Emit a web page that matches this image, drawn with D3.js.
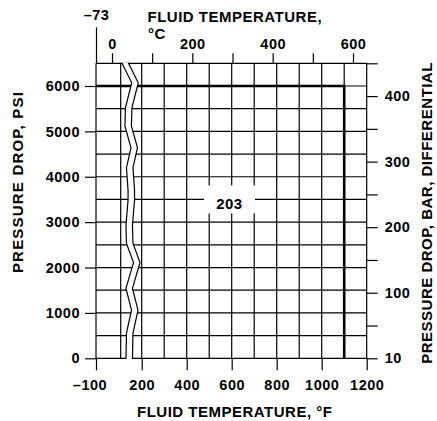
<!DOCTYPE html>
<html>
<head>
<meta charset="utf-8">
<script src="https://cdn.jsdelivr.net/npm/d3@7"></script>
<style>
  body { margin: 0; background: #fff; }
  svg text { font-family: "Liberation Sans", Arial, Helvetica, sans-serif; font-weight: bold; fill: #000; }
  .tick text { font-size: 14.5px; letter-spacing: 0.5px; }
  .title { font-size: 15px; letter-spacing: 0.5px; }
</style>
</head>
<body>
<div id="chart"></div>
<script>
// fluid temperature, deg F (bottom)
var gridF = [-100, 0, 200, 300, 400, 500, 600, 700, 800, 900, 1000, 1100, 1200];
var tickF = [-100, 200, 400, 600, 800, 1000, 1200];
var tickFLabels = ["–100", "200", "400", "600", "800", "1000", "1200"];

// fluid temperature, deg C (top)
var minC = -73;
var tickC = [0, 100, 200, 300, 400, 500, 600];
var tickCLabels = ["0", "", "200", "", "400", "", "600"];

// pressure drop
var gridPsi = [0, 500, 1000, 1500, 2000, 2500, 3000, 3500, 4000, 4500, 5000, 5500, 6000, 6500];
var tickPsi = [0, 1000, 2000, 3000, 4000, 5000, 6000];
var tickBar = [0, 50, 100, 150, 200, 250, 300, 350, 400, 450];
var tickBarLabels = ["10", "", "100", "", "200", "", "300", "", "400", ""];

// pressure / temperature limit, [degF, psi]
var limitLine = [[-100, 6000], [1100, 6000], [1100, 0]];
var curveLabel = { name: "203", f: 590, psi: 3500 };

// scale break between 0 and 200 F, [degF, psi]
var breakLine = [
  [10, 6510], [105, 6070], [45, 5520], [40, 5120], [98, 4640], [55, 4200],
  [70, 3700], [70, 3480], [50, 2930], [55, 2530], [122, 2110], [50, 1540],
  [103, 1060], [55, 555], [50, -15]
];

var width = 437;
var height = 421;
var plotLeft = 96, plotRight = 366.7, plotTop = 63.3, plotBottom = 358.3;

var svg = d3.select("#chart").append("svg")
    .attr("width", width)
    .attr("height", height);

// broken F axis: -100..0 and 0..200 squeezed
var x = d3.scaleLinear().domain([-100, 0, 200, 1200]).range([plotLeft, 120.7, 141.7, plotRight]);
var xC = d3.scaleLinear().domain([minC, 0, 600]).range([plotLeft, 112, 353]);
var y = d3.scaleLinear().domain([0, 6500]).range([plotBottom, plotTop]);
var yBar = d3.scaleLinear().domain([0, 450]).range([plotBottom, plotTop]);

// grid
svg.append("g").selectAll("line")
    .data(gridF)
    .enter()
    .append("line")
    .attr("x1", function(d) { return x(d); })
    .attr("x2", function(d) { return x(d); })
    .attr("y1", plotTop)
    .attr("y2", plotBottom)
    .attr("stroke", "#000")
    .attr("stroke-width", 1.2);

svg.append("g").selectAll("line")
    .data(gridPsi)
    .enter()
    .append("line")
    .attr("x1", plotLeft)
    .attr("x2", plotRight)
    .attr("y1", function(d) { return y(d); })
    .attr("y2", function(d) { return y(d); })
    .attr("stroke", "#000")
    .attr("stroke-width", 1.2);

// limit line
svg.append("path")
    .datum(limitLine)
    .attr("d", d3.line().x(function(d) { return x(d[0]); }).y(function(d) { return y(d[1]); }))
    .attr("fill", "none")
    .attr("stroke", "#000")
    .attr("stroke-width", 2.6);

// scale break band
var gap = 6.5;
svg.append("path")
    .datum(breakLine)
    .attr("d", d3.area()
      .x0(function(d) { return x(d[0]); })
      .x1(function(d) { return x(d[0]) + gap; })
      .y(function(d) { return y(d[1]); }))
    .attr("fill", "#fff");

[0, gap].forEach(function(off) {
  svg.append("path")
      .datum(breakLine)
      .attr("d", d3.line().x(function(d) { return x(d[0]) + off; }).y(function(d) { return y(d[1]); }))
      .attr("fill", "none")
      .attr("stroke", "#000")
      .attr("stroke-width", 1.2);
});

// curve label
var lab = svg.append("g")
    .attr("transform", "translate(" + x(curveLabel.f) + "," + y(curveLabel.psi) + ")");
lab.append("rect")
    .attr("x", -25.5).attr("y", -14)
    .attr("width", 51).attr("height", 28)
    .attr("fill", "#fff");
lab.append("text")
    .attr("class", "title")
    .attr("text-anchor", "middle")
    .attr("y", 9.5)
    .text(curveLabel.name);

function styleAxis(g) {
  g.select(".domain").remove();
  g.selectAll(".tick line").attr("stroke-width", 1.2);
}

// bottom axis (F)
svg.append("g")
    .attr("transform", "translate(0," + plotBottom + ")")
    .call(d3.axisBottom(x).tickValues(tickF).tickSize(12).tickPadding(9)
      .tickFormat(function(d, i) { return tickFLabels[i]; }))
    .call(styleAxis)
    .selectAll(".tick text")
    .filter(function(d) { return d < 0; })
    .attr("dx", "-0.45em");

// top axis (C)
svg.append("g")
    .attr("transform", "translate(0," + plotTop + ")")
    .call(d3.axisTop(xC).tickValues(tickC).tickSize(10).tickPadding(4)
      .tickFormat(function(d, i) { return tickCLabels[i]; }))
    .call(styleAxis);

svg.append("g")
    .attr("transform", "translate(0," + plotTop + ")")
    .call(d3.axisTop(xC).tickValues([minC]).tickSize(36).tickPadding(7)
      .tickFormat(function() { return "–73"; }))
    .call(styleAxis);

// left axis (psi)
svg.append("g")
    .attr("transform", "translate(" + plotLeft + ",0)")
    .call(d3.axisLeft(y).tickValues(tickPsi).tickSize(11).tickPadding(5)
      .tickFormat(d3.format("d")))
    .call(styleAxis);

// right axis (bar)
svg.append("g")
    .attr("transform", "translate(" + plotRight + ",0)")
    .call(d3.axisRight(yBar).tickValues(tickBar).tickSize(11).tickPadding(7)
      .tickFormat(function(d, i) { return tickBarLabels[i]; }))
    .call(styleAxis);

// titles
svg.append("text")
    .attr("class", "title")
    .attr("x", 147.5)
    .attr("y", 22.3)
    .text("FLUID TEMPERATURE,");

svg.append("text")
    .attr("class", "title")
    .attr("x", 148)
    .attr("y", 39)
    .text("°C");

svg.append("text")
    .attr("class", "title")
    .attr("x", 137)
    .attr("y", 416.5)
    .text("FLUID TEMPERATURE, °F");

svg.append("text")
    .attr("class", "title")
    .attr("text-anchor", "middle")
    .attr("transform", "translate(23.3,182) rotate(-90)")
    .style("letter-spacing", "1.2px")
    .text("PRESSURE DROP, PSI");

svg.append("text")
    .attr("class", "title")
    .attr("text-anchor", "middle")
    .attr("transform", "translate(431.7,213) rotate(-90)")
    .text("PRESSURE DROP, BAR, DIFFERENTIAL");
</script>
</body>
</html>
